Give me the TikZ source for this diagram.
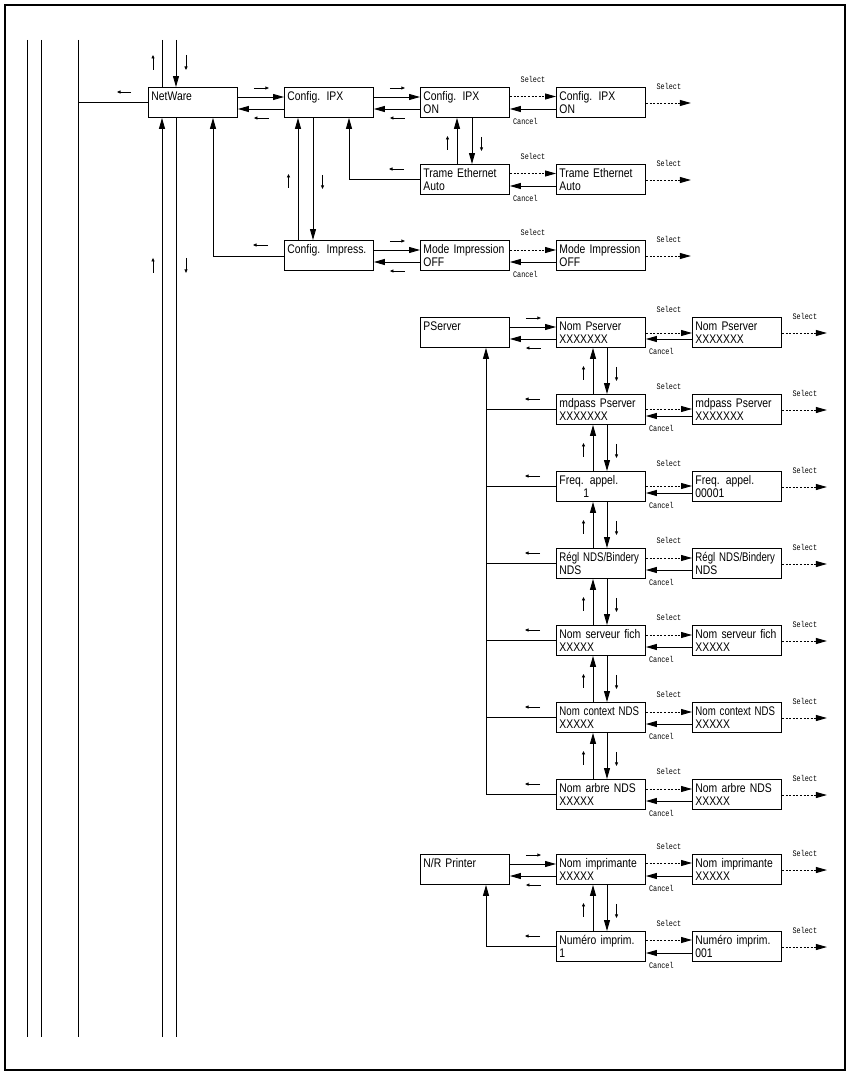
\documentclass[tikz,border=0pt]{standalone}
\usepackage{fontspec}
\usepackage{graphicx}
\setmainfont{Liberation Sans}[FakeStretch=0.83]
\newfontfamily\lblfont{Liberation Mono}[FakeStretch=0.8]
\usetikzlibrary{arrows.meta,calc}
\newcommand\sqz[1]{\scalebox{0.93}[1]{#1}}

\tikzset{
  box/.style={draw, line width=0.9pt, anchor=north west, minimum width=89pt,
    minimum height=30pt, text width=83pt, inner xsep=3pt, inner ysep=0pt,
    align=left, font=\fontsize{12.5}{13}\selectfont},
  conn/.style={line width=0.9pt},
  arr/.style={conn, -{Triangle[length=11pt,width=6pt]}},
  dsh/.style={line width=0.9pt, dash pattern=on 2pt off 1.6pt, -{Triangle[length=11pt,width=6pt]}},
  ind/.style={line width=0.7pt, -{Triangle[length=3.5pt,width=3pt]}},
  lbl/.style={font=\lblfont\fontsize{8.5}{9}\selectfont, inner sep=0pt},
  frame/.style={line width=2pt},
  thinline/.style={line width=0.8pt},
}

% select / cancel pair between a value box and its edit box
\newcommand\selpair[3]{%
  \draw[dsh] ($(#1.north east)+(0,#3)$) -- ($(#2.north west)+(0,#3)$);
  \draw[arr] ($(#2.north west)+(0,22)$) -- ($(#1.north east)+(0,22)$);
  \node[lbl] (#1sel) at ($(#1.north east)!0.5!(#2.north west)+(0,-7.5)$) {Select};
  \node[lbl,anchor=west] (#1can) at ($(#1.south east)+(3,4)$) {Cancel};
  \coordinate (#2end) at ($(#2.north east)+(45,16)$);
  \draw[dsh] ($(#2.north east)+(0,16)$) -- (#2end);
  \node[lbl] (#2sel) at ($(#2.north east)+(23,-1)$) {Select};
}
% forward / back between parent and first child
\newcommand\fwdback[2]{%
  \draw[arr] ($(#1.north east)+(0,10)$) -- ($(#2.north west)+(0,10)$);
  \draw[arr] ($(#2.north west)+(0,22)$) -- ($(#1.north east)+(0,22)$);
  \draw[ind] ($(#1.north east)+(16,1)$) -- ($(#1.north east)+(31,1)$);
  \draw[ind] ($(#1.north east)+(31,31)$) -- ($(#1.north east)+(16,31)$);
}
% up / down between two stacked boxes
\newcommand\updown[4]{%
  \draw[arr] ($(#2.north west)+(#3,0)$) -- ($(#1.south west)+(#3,0)$);
  \draw[arr] ($(#1.south west)+(#4,0)$) -- ($(#2.north west)+(#4,0)$);
  \draw[ind] ($(#1.south west)!0.5!(#2.north west)+(#3-9.5,9)$) -- ($(#1.south west)!0.5!(#2.north west)+(#3-9.5,-5)$);
  \draw[ind] ($(#1.south west)!0.5!(#2.north west)+(#4+9.5,-4)$) -- ($(#1.south west)!0.5!(#2.north west)+(#4+9.5,10)$);
}
% left-pointing indicator in front of a box
\newcommand\backind[1]{%
  \draw[ind] ($(#1.north west)+(-16,5)$) -- ($(#1.north west)+(-31,5)$);
}

\begin{document}
\begin{tikzpicture}[x=1pt,y=-1pt]
\useasboundingbox (0,0) rectangle (848,1073);
\draw[frame] (5,5) rectangle (845,1070);

% ---------- upper part ----------
\node[box] (netware) at (148,87) {NetWare\\~};
\node[box] (ipx) at (284,87) {Config. IPX\\~};
\node[box] (ipxon1) at (420,87) {Config. IPX\\ON};
\node[box] (ipxon2) at (556,87) {Config. IPX\\ON};
\node[box] (trame1) at (420,164) {\mbox{Trame Ethernet}\\Auto};
\node[box] (trame2) at (556,164) {\mbox{Trame Ethernet}\\Auto};
\node[box] (impress) at (284,240) {Config. Impress.\\~};
\node[box] (mode1) at (420,240) {\mbox{Mode Impression}\\OFF};
\node[box] (mode2) at (556,240) {\mbox{Mode Impression}\\OFF};

% left vertical lines
\coordinate (la) at (27,40);  \coordinate (lab) at (27,1037);
\coordinate (lb) at (41,40);  \coordinate (lbb) at (41,1037);
\coordinate (lc) at (78,40);  \coordinate (lcb) at (78,1037);
\coordinate (intop) at (162,40); \coordinate (inbot) at (162,1037);
\coordinate (outtop) at (176,40); \coordinate (outbot) at (176,1037);
\draw[thinline] (la) -- (lab);
\draw[thinline] (lb) -- (lbb);
\draw[thinline] (lc) -- (lcb);
\draw[conn] (intop) -- (intop |- netware.north);
\draw[arr] (outtop) -- (outtop |- netware.north);
\draw[arr] (inbot) -- (inbot |- netware.south);
\draw[conn] (outbot |- netware.south) -- (outbot);
\draw[ind] ($(netware.north west)+(5,-17)$) -- ($(netware.north west)+(5,-32)$);
\draw[ind] ($(netware.north west)+(38,-32)$) -- ($(netware.north west)+(38,-17)$);
\draw[ind] ($(netware.south west)+(5,155)$) -- ($(netware.south west)+(5,140)$);
\draw[ind] ($(netware.south west)+(38,140)$) -- ($(netware.south west)+(38,155)$);

% netware back to main column
\draw[conn] ($(netware.north west)+(0,15)$) coordinate (nwret) -- (nwret -| lc);
\draw[ind] ($(netware.north west)+(-17,5)$) -- ($(netware.north west)+(-31,5)$);

\fwdback{netware}{ipx}
\fwdback{ipx}{ipxon1}
\fwdback{impress}{mode1}
\updown{ipxon1}{trame1}{37}{52}
\updown{ipx}{impress}{14}{29}

\draw[arr] ($(trame1.north west)+(0,15)$) -| ($(ipx.south west)+(65,0)$);
\backind{trame1}
\draw[arr] ($(impress.north west)+(0,16)$) -| ($(netware.south west)+(65,0)$);
\backind{impress}

\selpair{ipxon1}{ipxon2}{9.5}
\selpair{trame1}{trame2}{9.5}
\selpair{mode1}{mode2}{10}

% ---------- PServer ----------
\node[box] (pserver) at (420,317) {PServer\\~};
\node[box] (pa0) at (556,317) {Nom Pserver\\XXXXXXX};
\node[box] (pb0) at (692,317) {Nom Pserver\\XXXXXXX};
\node[box] (pa1) at (556,394) {\mbox{mdpass Pserver}\\XXXXXXX};
\node[box] (pb1) at (692,394) {\mbox{mdpass Pserver}\\XXXXXXX};
\node[box] (pa2) at (556,471) {Freq. appel.\\\hspace*{24pt}1};
\node[box] (pb2) at (692,471) {Freq. appel.\\00001};
\node[box] (pa3) at (556,548) {\sqz{Régl NDS/Bindery}\\NDS};
\node[box] (pb3) at (692,548) {\sqz{Régl NDS/Bindery}\\NDS};
\node[box] (pa4) at (556,625) {\mbox{Nom serveur fich}\\XXXXX};
\node[box] (pb4) at (692,625) {\mbox{Nom serveur fich}\\XXXXX};
\node[box] (pa5) at (556,702) {\sqz{Nom context NDS}\\XXXXX};
\node[box] (pb5) at (692,702) {\sqz{Nom context NDS}\\XXXXX};
\node[box] (pa6) at (556,779) {\mbox{Nom arbre NDS}\\XXXXX};
\node[box] (pb6) at (692,779) {\mbox{Nom arbre NDS}\\XXXXX};

\fwdback{pserver}{pa0}
\foreach \r/\s in {0/1,1/2,2/3,3/4,4/5,5/6} {\updown{pa\r}{pa\s}{37}{51}}
\foreach \r/\d in {0/16,1/15,2/15,3/10,4/10,5/10,6/10} {\selpair{pa\r}{pb\r}{\d}}
\foreach \r in {1,...,5} {
  \draw[conn] ($(pa\r.north west)+(0,15)$) -- ($(pa\r.north west)+(-70,15)$);
  \backind{pa\r}
}
\draw[arr] ($(pa6.north west)+(0,15)$) -| ($(pserver.south west)+(66,0)$);
\backind{pa6}

% ---------- N/R Printer ----------
\node[box] (nrprinter) at (420,854) {N/R Printer\\~};
\node[box] (nom1) at (556,854) {\mbox{Nom imprimante}\\XXXXX};
\node[box] (nom2) at (692,854) {\mbox{Nom imprimante}\\XXXXX};
\node[box] (num1) at (556,931) {\mbox{Numéro imprim.}\\1};
\node[box] (num2) at (692,931) {\mbox{Numéro imprim.}\\001};

\fwdback{nrprinter}{nom1}
\updown{nom1}{num1}{37}{51}
\selpair{nom1}{nom2}{9}
\selpair{num1}{num2}{9}
\draw[arr] ($(num1.north west)+(0,15)$) -| ($(nrprinter.south west)+(66,0)$);
\backind{num1}
\end{tikzpicture}
\end{document}
